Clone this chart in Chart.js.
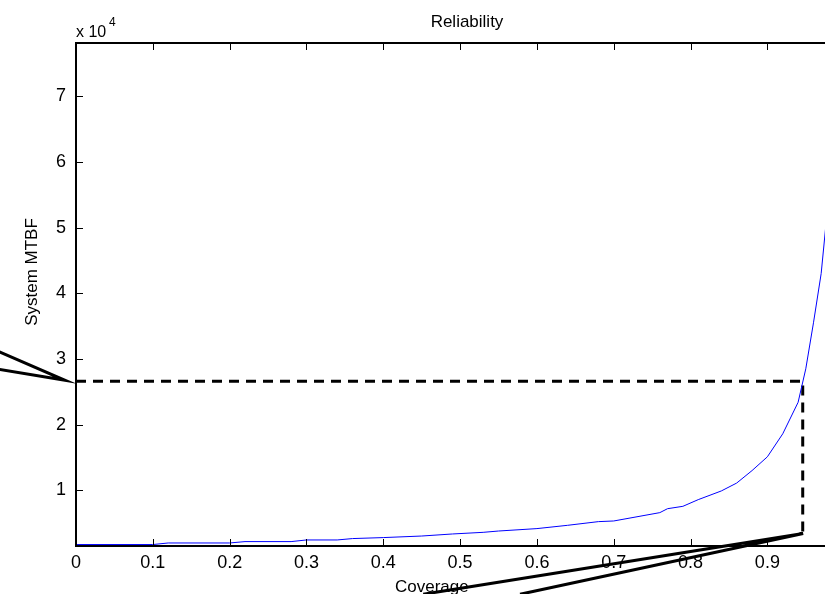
<!DOCTYPE html>
<html>
<head>
<meta charset="utf-8">
<script src="https://cdn.jsdelivr.net/npm/chart.js@4.4.0/dist/chart.umd.min.js"></script>
<style>
  html, body { margin: 0; padding: 0; background: #fff; overflow: hidden; }
  #wrap { width: 825px; height: 594px; }
</style>
</head>
<body>
<div id="wrap"><canvas id="reliabilityChart" width="825" height="594"></canvas></div>
<script>
// reliability.js

const coverage = [0, 0.10, 0.12, 0.20, 0.22, 0.28, 0.30, 0.34, 0.36, 0.40, 0.45, 0.49, 0.53, 0.55,
  0.60, 0.64, 0.68, 0.70, 0.76, 0.77, 0.79, 0.81, 0.84, 0.86, 0.88, 0.90, 0.92, 0.94, 0.95,
  0.96, 0.97, 0.98];
const mtbf = [1740, 1740, 1980, 1980, 2190, 2190, 2440, 2440, 2650, 2800, 3040, 3350, 3600, 3800,
  4170, 4670, 5230, 5330, 6600, 7200, 7560, 8580, 9900, 11100, 13000, 15100, 18600, 23400, 28500,
  35500, 43000, 55000];

const xTicks = [0, 0.1, 0.2, 0.3, 0.4, 0.5, 0.6, 0.7, 0.8, 0.9];
const yTicks = [10000, 20000, 30000, 40000, 50000, 60000, 70000];
const xRange = [0, 0.975];
const yRange = [1520, 78100];

// dashed guide to the operating point
const guideX = [0, 0.946, 0.946];
const guideY = [26600, 26600, 3410];

// callout pointers, they run off the edge of the figure
const pointerLeftX = [-0.12, -0.0143, -0.12];
const pointerLeftY = [32100, 26750, 28800];
const pointerBottomX = [0.452, 0.9466, 0.578];
const pointerBottomY = [-5830, 3410, -5830];

const FONT = '"Liberation Sans", Arial, Helvetica, sans-serif';

function toPoints(xs, ys) {
  return xs.map((x, i) => ({ x: x, y: ys[i] }));
}

const matlabAxes = {
  id: 'matlabAxes',
  beforeDatasetsDraw(chart) {
    const ctx = chart.ctx;
    ctx.save();
    ctx.fillStyle = '#000';

    ctx.font = '17px ' + FONT;
    ctx.textAlign = 'center';
    ctx.textBaseline = 'alphabetic';
    ctx.fillText('Reliability', 467, 27);

    ctx.textAlign = 'left';
    ctx.fillText('Coverage', 395, 592);

    ctx.font = '16px ' + FONT;
    ctx.fillText('x 10', 76, 37);
    ctx.font = '12px ' + FONT;
    ctx.fillText('4', 109, 26);

    ctx.font = '17px ' + FONT;
    ctx.translate(37, 272);
    ctx.rotate(-Math.PI / 2);
    ctx.textAlign = 'center';
    ctx.fillText('System MTBF', 0, 0);
    ctx.restore();
  },
  afterDraw(chart) {
    const { ctx, chartArea, scales } = chart;
    const line = (x1, y1, x2, y2) => {
      ctx.beginPath();
      ctx.moveTo(x1, y1);
      ctx.lineTo(x2, y2);
      ctx.stroke();
    };
    ctx.save();
    ctx.strokeStyle = '#000';
    ctx.lineWidth = 1;
    xTicks.forEach(v => {
      const px = Math.round(scales.x.getPixelForValue(v)) + 0.5;
      line(px, chartArea.bottom, px, chartArea.bottom - 7);
      line(px, chartArea.top, px, chartArea.top + 7);
    });
    yTicks.forEach(v => {
      const py = Math.round(scales.y.getPixelForValue(v)) + 0.5;
      line(chartArea.left, py, chartArea.left + 7, py);
    });
    ctx.lineWidth = 2;
    line(chartArea.left, chartArea.top, chartArea.right, chartArea.top);
    ctx.restore();
  }
};

const ctx = document.getElementById('reliabilityChart').getContext('2d');

new Chart(ctx, {
  type: 'line',
  data: {
    datasets: [
      {
        label: 'MTBF',
        data: toPoints(coverage, mtbf),
        borderColor: '#0000ff',
        borderWidth: 1,
        pointRadius: 0,
        tension: 0
      },
      {
        label: 'guide',
        data: toPoints(guideX, guideY),
        borderColor: '#000',
        borderWidth: 3,
        borderDash: [10, 7],
        pointRadius: 0,
        tension: 0
      },
      {
        label: 'pointer y',
        data: toPoints(pointerLeftX, pointerLeftY),
        borderColor: '#000',
        borderWidth: 3,
        pointRadius: 0,
        tension: 0,
        clip: false
      },
      {
        label: 'pointer x',
        data: toPoints(pointerBottomX, pointerBottomY),
        borderColor: '#000',
        borderWidth: 3,
        pointRadius: 0,
        tension: 0,
        clip: false
      }
    ]
  },
  options: {
    responsive: false,
    animation: false,
    layout: { padding: { top: 43, right: 0, left: 0, bottom: 0 } },
    plugins: {
      legend: { display: false },
      tooltip: { enabled: false },
      title: { display: false }
    },
    scales: {
      x: {
        type: 'linear',
        min: xRange[0],
        max: xRange[1],
        afterBuildTicks: scale => { scale.ticks = xTicks.map(v => ({ value: v })); },
        afterFit: scale => { scale.height = 48; },
        ticks: {
          color: '#000',
          font: { family: FONT, size: 18 },
          padding: 6,
          maxRotation: 0,
          autoSkip: false,
          callback: v => (v === 0 ? '0' : v.toFixed(1))
        },
        grid: { drawOnChartArea: false, drawTicks: false },
        border: { color: '#000', width: 2 }
      },
      y: {
        type: 'linear',
        min: yRange[0],
        max: yRange[1],
        afterBuildTicks: scale => { scale.ticks = yTicks.map(v => ({ value: v })); },
        afterFit: scale => { scale.width = 76; },
        ticks: {
          color: '#000',
          font: { family: FONT, size: 18 },
          padding: 10,
          autoSkip: false,
          callback: v => String(v / 10000)
        },
        grid: { drawOnChartArea: false, drawTicks: false },
        border: { color: '#000', width: 2 }
      }
    }
  },
  plugins: [matlabAxes]
});
</script>
</body>
</html>
